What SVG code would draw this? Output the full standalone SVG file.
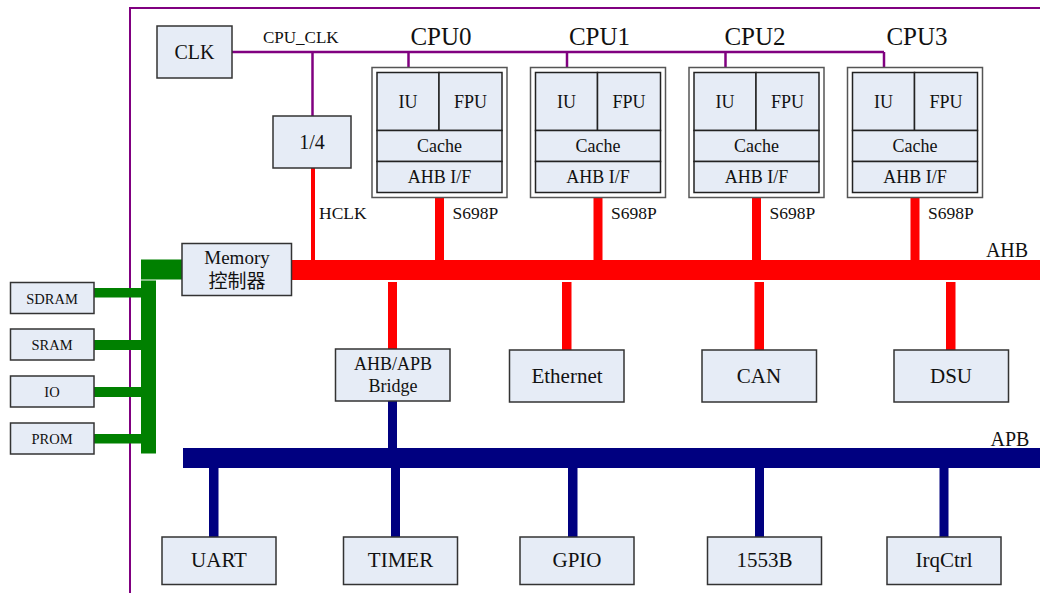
<svg xmlns="http://www.w3.org/2000/svg" width="1040" height="593" viewBox="0 0 1040 593">
  <style>
    text { font-family: "Liberation Serif", "Noto Sans CJK SC", serif; fill: #111; text-anchor: middle; }
    .box { fill: #E6ECF6; stroke: #333; stroke-width: 1.5; }
    .outer { fill: #fff; stroke: #555; stroke-width: 1.5; }
    .cell { fill: #E6ECF6; stroke: #222; stroke-width: 1.5; }
    .clk { stroke: #800080; stroke-width: 2.5; fill: none; }
    .ahb { fill: #FF0000; }
    .apb { fill: #000080; }
    .mem { fill: #008000; }
    .lbl { text-anchor: start; }
    .s18 { font-size: 18px; }
    .s21 { font-size: 21px; }
    .cpu { font-size: 25px; }
  </style>

  <!-- chip boundary -->
  <path d="M 130,593 L 130,8 L 1040,8" fill="none" stroke="#800080" stroke-width="2"/>

  <g id="connectors">
    <!-- clock distribution -->
    <path class="clk" d="M 232,52 L 884,52"/>
    <path class="clk" d="M 312.5,52 L 312.5,116"/>
    <path class="clk" d="M 408.5,52 L 408.5,73"/>
    <path class="clk" d="M 567,52 L 567,73"/>
    <path class="clk" d="M 725.5,52 L 725.5,73"/>
    <path class="clk" d="M 884,52 L 884,73"/>
    <text class="lbl" x="263" y="43" font-size="17">CPU_CLK</text>

    <!-- HCLK -->
    <rect class="ahb" x="311" y="168" width="4" height="92"/>
    <text class="lbl" x="319" y="218.5" font-size="17.5">HCLK</text>

    <!-- AHB bus -->
    <rect class="ahb" x="291" y="260" width="749" height="20"/>
    <text x="1007" y="256.5" font-size="20">AHB</text>

    <!-- CPU to AHB -->
    <rect class="ahb" x="435" y="193" width="9" height="67"/>
    <rect class="ahb" x="593.5" y="193" width="9" height="67"/>
    <rect class="ahb" x="752" y="193" width="9" height="67"/>
    <rect class="ahb" x="910.5" y="193" width="9" height="67"/>
    <text class="lbl" x="452.5" y="219" font-size="17.5">S698P</text>
    <text class="lbl" x="611" y="219" font-size="17.5">S698P</text>
    <text class="lbl" x="769.5" y="219" font-size="17.5">S698P</text>
    <text class="lbl" x="928" y="219" font-size="17.5">S698P</text>

    <!-- AHB to slaves -->
    <rect class="ahb" x="388" y="282" width="9" height="67"/>
    <rect class="ahb" x="562" y="282" width="9.5" height="68"/>
    <rect class="ahb" x="754.5" y="282" width="9.5" height="68"/>
    <rect class="ahb" x="946" y="282" width="9.5" height="68"/>

    <!-- bridge to APB -->
    <rect class="apb" x="388" y="401" width="9" height="47"/>

    <!-- APB bus -->
    <rect class="apb" x="183" y="448" width="857" height="20"/>
    <text x="1010" y="446" font-size="20">APB</text>

    <!-- APB to peripherals -->
    <rect class="apb" x="209" y="468" width="9.5" height="69"/>
    <rect class="apb" x="391" y="468" width="9" height="69"/>
    <rect class="apb" x="568" y="468" width="9.5" height="69"/>
    <rect class="apb" x="755" y="468" width="9" height="69"/>
    <rect class="apb" x="939.5" y="468" width="9" height="69"/>

    <!-- memory bus -->
    <rect class="mem" x="141" y="259.5" width="41" height="20"/>
    <rect class="mem" x="141" y="280.5" width="15" height="173"/>
    <rect class="mem" x="94" y="288" width="47" height="9.5"/>
    <rect class="mem" x="94" y="340" width="47" height="10"/>
    <rect class="mem" x="94" y="387" width="47" height="10"/>
    <rect class="mem" x="94" y="434" width="47" height="9.5"/>
  </g>

  <g id="clk">
    <rect class="box" x="157" y="26" width="75" height="52"/>
    <text x="194.5" y="59" font-size="20">CLK</text>
  </g>

  <g id="div4">
    <rect class="box" x="273" y="116" width="78" height="52"/>
    <text x="312" y="149" font-size="20">1/4</text>
  </g>

  <g id="cpu0">
    <text class="cpu" x="441" y="45">CPU0</text>
    <rect class="outer" x="372" y="67.5" width="135" height="130"/>
    <rect class="cell" x="377" y="72.5" width="62" height="58"/>
    <rect class="cell" x="439" y="72.5" width="63" height="58"/>
    <rect class="cell" x="377" y="130.5" width="125" height="31"/>
    <rect class="cell" x="377" y="161.5" width="125" height="31"/>
    <text class="s18" x="408" y="107.5">IU</text>
    <text class="s18" x="470.5" y="107.5">FPU</text>
    <text class="s18" x="439.5" y="152">Cache</text>
    <text class="s18" x="439.5" y="183">AHB I/F</text>
  </g>

  <g id="cpu1">
    <text class="cpu" x="599.5" y="45">CPU1</text>
    <rect class="outer" x="530.5" y="67.5" width="135" height="130"/>
    <rect class="cell" x="535.5" y="72.5" width="62" height="58"/>
    <rect class="cell" x="597.5" y="72.5" width="63" height="58"/>
    <rect class="cell" x="535.5" y="130.5" width="125" height="31"/>
    <rect class="cell" x="535.5" y="161.5" width="125" height="31"/>
    <text class="s18" x="566.5" y="107.5">IU</text>
    <text class="s18" x="629" y="107.5">FPU</text>
    <text class="s18" x="598" y="152">Cache</text>
    <text class="s18" x="598" y="183">AHB I/F</text>
  </g>

  <g id="cpu2">
    <text class="cpu" x="755" y="45">CPU2</text>
    <rect class="outer" x="689" y="67.5" width="135" height="130"/>
    <rect class="cell" x="694" y="72.5" width="62" height="58"/>
    <rect class="cell" x="756" y="72.5" width="63" height="58"/>
    <rect class="cell" x="694" y="130.5" width="125" height="31"/>
    <rect class="cell" x="694" y="161.5" width="125" height="31"/>
    <text class="s18" x="725" y="107.5">IU</text>
    <text class="s18" x="787.5" y="107.5">FPU</text>
    <text class="s18" x="756.5" y="152">Cache</text>
    <text class="s18" x="756.5" y="183">AHB I/F</text>
  </g>

  <g id="cpu3">
    <text class="cpu" x="917" y="45">CPU3</text>
    <rect class="outer" x="847.5" y="67.5" width="135" height="130"/>
    <rect class="cell" x="852.5" y="72.5" width="62" height="58"/>
    <rect class="cell" x="914.5" y="72.5" width="63" height="58"/>
    <rect class="cell" x="852.5" y="130.5" width="125" height="31"/>
    <rect class="cell" x="852.5" y="161.5" width="125" height="31"/>
    <text class="s18" x="883.5" y="107.5">IU</text>
    <text class="s18" x="946" y="107.5">FPU</text>
    <text class="s18" x="915" y="152">Cache</text>
    <text class="s18" x="915" y="183">AHB I/F</text>
  </g>

  <g id="memctrl">
    <rect class="box" x="182" y="243.5" width="109.5" height="52"/>
    <text x="237" y="263.5" font-size="19">Memory</text>
    <text x="237" y="288" font-size="19">控制器</text>
  </g>

  <g id="sdram">
    <rect class="box" x="10.5" y="282.5" width="83.5" height="31"/>
    <text x="52" y="303.5" font-size="14.5">SDRAM</text>
  </g>
  <g id="sram">
    <rect class="box" x="10.5" y="329" width="83.5" height="31"/>
    <text x="52" y="350" font-size="14.5">SRAM</text>
  </g>
  <g id="io">
    <rect class="box" x="10.5" y="376" width="83.5" height="31"/>
    <text x="52" y="397" font-size="14.5">IO</text>
  </g>
  <g id="prom">
    <rect class="box" x="10.5" y="423" width="83.5" height="31"/>
    <text x="52" y="444" font-size="14.5">PROM</text>
  </g>

  <g id="bridge">
    <rect class="box" x="335.5" y="349" width="114.5" height="52"/>
    <text class="s18" x="393" y="370">AHB/APB</text>
    <text class="s18" x="393" y="392">Bridge</text>
  </g>
  <g id="ethernet">
    <rect class="box" x="509.5" y="350" width="114.5" height="52"/>
    <text class="s21" x="567" y="383">Ethernet</text>
  </g>
  <g id="can">
    <rect class="box" x="702" y="350" width="114.5" height="52"/>
    <text class="s21" x="759" y="383">CAN</text>
  </g>
  <g id="dsu">
    <rect class="box" x="894" y="350" width="114.5" height="52"/>
    <text class="s21" x="951" y="383">DSU</text>
  </g>

  <g id="uart">
    <rect class="box" x="162" y="537" width="114" height="47.5"/>
    <text class="s21" x="219" y="567">UART</text>
  </g>
  <g id="timer">
    <rect class="box" x="343.5" y="537" width="114" height="47.5"/>
    <text class="s21" x="400.5" y="567">TIMER</text>
  </g>
  <g id="gpio">
    <rect class="box" x="520" y="537" width="114" height="47.5"/>
    <text class="s21" x="577" y="567">GPIO</text>
  </g>
  <g id="b1553">
    <rect class="box" x="707.5" y="537" width="114" height="47.5"/>
    <text class="s21" x="764.5" y="567">1553B</text>
  </g>
  <g id="irqctrl">
    <rect class="box" x="887" y="537" width="114" height="47.5"/>
    <text class="s21" x="944" y="567">IrqCtrl</text>
  </g>
</svg>
